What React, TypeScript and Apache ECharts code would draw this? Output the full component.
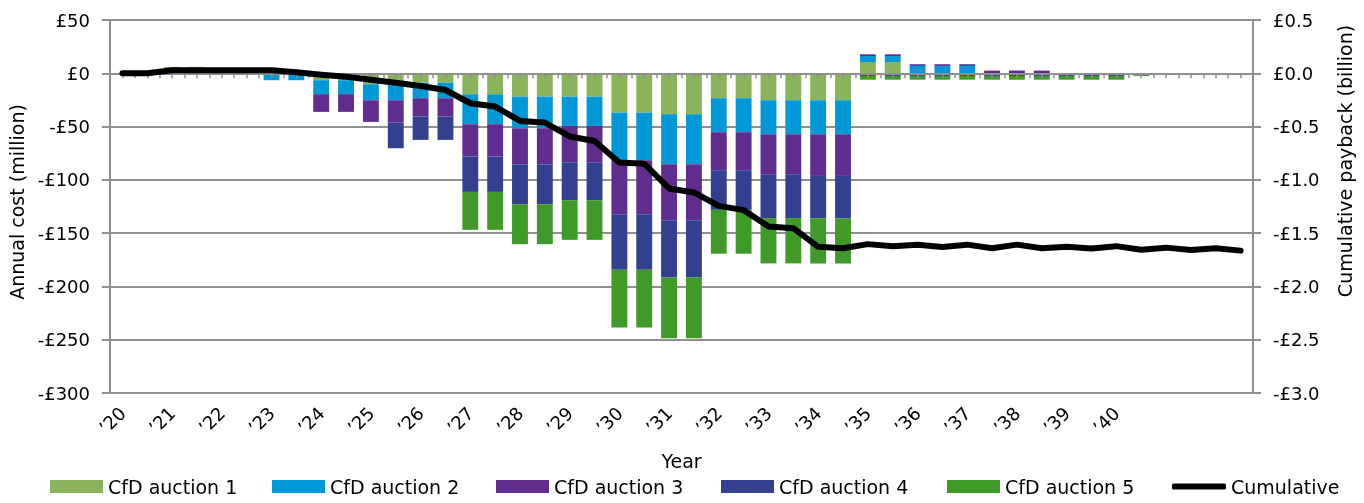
import React, { useEffect, useRef } from 'react';
import * as echarts from 'echarts';

// Tick labels shown on the category axis (one per year, every second half-year period)
const tickLabels = ["’20", "’21", "’22", "’23", "’24", "’25", "’26", "’27", "’28", "’29", "’30", "’31", "’32", "’33", "’34", "’35", "’36", "’37", "’38", "’39", "’40"];

// Years covered by the axis (two periods each)
const years = ["2020", "2021", "2022", "2023", "2024", "2025", "2026", "2027", "2028", "2029", "2030", "2031", "2032", "2033", "2034", "2035", "2036", "2037", "2038", "2039", "2040", "2041", "2042"];

const seriesNames = ["CfD auction 1", "CfD auction 2", "CfD auction 3", "CfD auction 4", "CfD auction 5"];
const lineName = "Cumulative";

// Annual cost (£ million), per half-year period
const auction1 = [0, 0, 6, 6, 0, 0, 0, 0, -6.5, -6.5, -10.3, -8.8, -8.8, -8.8, -19.7, -19.7, -21.9, -21.9, -21.9, -21.9, -36.9, -36.9, -38.4, -38.4, -23.4, -23.4, -25.3, -25.3, -25.3, -25.3, 10.6, 10.6, 0, 0, 0, 0, 0, 0, 0, 0, 0, 0, 0, 0, 0, 0];
const auction2 = [0, 0, 0, 0, 0, 0, -6.5, -6.5, -13.1, -13.1, -15, -16.5, -14.6, -14.6, -28.1, -28.1, -29.7, -29.7, -27.5, -27.5, -44.7, -44.7, -46.9, -46.9, -31.9, -31.9, -31.9, -31.9, -31.9, -31.9, 5.6, 5.6, 6.9, 6.9, 6.9, 0, 0, 0, 0, 0, 0, 0, 0, 0, 0, 0];
const auction3 = [0, 0, 0, 0, 0, 0, 0, 0, -16.6, -16.6, -20.3, -21, -17.2, -17.2, -30.3, -30.3, -33.8, -33.8, -34.1, -34.1, -50.6, -50.6, -52.5, -52.5, -35.6, -35.6, -37.5, -37.5, -39.1, -39.1, 1.6, 1.6, 1.6, 1.6, 1.6, 2.5, 2.5, 2.5, 0, 0, 0, 0, 0, 0, 0, 0];
const auction4 = [0, 0, 0, 0, 0, 0, 0, 0, 0, 0, 0, -24, -21.9, -21.9, -33.2, -33.2, -37.5, -37.5, -35.6, -35.6, -52.2, -52.2, -53.8, -53.8, -37.2, -37.2, -41.2, -41.2, -39.7, -39.7, -2.5, -2.5, -2.5, -2.5, -2.5, -2.5, -2.5, -2.5, -2.5, -2.5, -2.5, 0, 0, 0, 0, 0];
const auction5 = [0, 0, 0, 0, 0, 0, 0, 0, 0, 0, 0, 0, 0, 0, -35.6, -35.6, -37.5, -37.5, -37.2, -37.2, -54.1, -54.1, -57.1, -57.1, -41.2, -41.2, -42.5, -42.5, -42.5, -42.5, -3.5, -3.5, -3.5, -3.5, -3.5, -3.5, -3.5, -3.5, -3.5, -3.5, -3.5, -2.5, 0, 0, 0, 0];

// Cumulative payback (£ billion)
const cumulative = [0, 0, 0.028, 0.028, 0.028, 0.028, 0.028, 0.009, -0.014, -0.033, -0.061, -0.089, -0.119, -0.157, -0.281, -0.312, -0.447, -0.462, -0.593, -0.635, -0.837, -0.848, -1.081, -1.118, -1.244, -1.284, -1.437, -1.453, -1.628, -1.641, -1.603, -1.622, -1.608, -1.631, -1.608, -1.641, -1.608, -1.641, -1.627, -1.645, -1.622, -1.655, -1.636, -1.659, -1.641, -1.664];

const periods = years.flatMap((y) => [y + " H1", y + " H2"]);

export default function App() {
  const ref = useRef<HTMLDivElement>(null);

  useEffect(() => {
    if (!ref.current) return;
    const chart = echarts.init(ref.current, null, { renderer: 'svg' });
    const font = 'DejaVu Sans';
    const gray = '#8f8f8f';
    const colors = ['#89B45B', '#0098D7', '#602C8D', '#32408F', '#409A2A'];
    const barData = [auction1, auction2, auction3, auction4, auction5];
    const legendLefts = [50, 272, 496, 721, 947, 1172];

    const barSeries = seriesNames.map((name, i) => ({
      name,
      type: 'bar',
      stack: 'cost',
      xAxisIndex: 0,
      yAxisIndex: 0,
      barCategoryGap: '36%',
      itemStyle: { color: colors[i] },
      data: barData[i],
      z: 2,
    }));

    const legends = seriesNames.map((name, i) => ({
      data: [{ name, icon: 'rect' }],
      left: legendLefts[i],
      top: 477,
      itemWidth: 53,
      itemHeight: 13,
      itemGap: 0,
      padding: 0,
      textStyle: { fontFamily: font, fontSize: 19, color: '#000' },
    }));
    legends.push({
      data: [{ name: lineName, icon: 'roundRect' }] as any,
      left: legendLefts[5],
      top: 477,
      itemWidth: 54,
      itemHeight: 6,
      itemGap: 0,
      padding: 0,
      textStyle: { fontFamily: font, fontSize: 19, color: '#000' },
    });

    const option = {
      animation: false,
      legend: legends,
      grid: { left: 110, right: 111, top: 20, bottom: 110, containLabel: false },
      xAxis: [
        {
          type: 'category',
          data: periods,
          position: 'bottom',
          boundaryGap: true,
          axisLine: { show: true, onZero: false, lineStyle: { color: gray, width: 2 } },
          axisTick: { show: false },
          axisLabel: {
            interval: 0,
            rotate: 45,
            margin: 17,
            fontFamily: font,
            fontSize: 18,
            color: '#000',
            formatter: (_v: string, idx: number) =>
              idx % 2 === 0 && idx / 2 < tickLabels.length ? tickLabels[idx / 2] : '',
          },
          splitLine: { show: false },
          name: 'Year',
          nameLocation: 'middle',
          nameGap: 58,
          nameTextStyle: { fontFamily: font, fontSize: 19, color: '#000' },
        },
        {
          type: 'value',
          min: 0,
          max: periods.length * 2,
          interval: 1,
          position: 'bottom',
          z: 3,
          axisLine: { show: true, onZero: true, onZeroAxisIndex: 0, lineStyle: { color: gray, width: 2 } },
          axisTick: { show: true, inside: false, length: 5, lineStyle: { color: gray, width: 1.5 } },
          axisLabel: { show: false },
          splitLine: { show: false },
        },
      ],
      yAxis: [
        {
          type: 'value',
          min: -300,
          max: 50,
          interval: 50,
          position: 'left',
          axisLine: { show: true, lineStyle: { color: gray, width: 2 } },
          axisTick: { show: true, length: 8, lineStyle: { color: gray, width: 2 } },
          axisLabel: {
            margin: 20,
            fontFamily: font,
            fontSize: 18,
            color: '#000',
            formatter: (v: number) => (v < 0 ? '-£' : '£') + Math.abs(v),
          },
          splitLine: { show: true, lineStyle: { color: gray, width: 2 } },
        },
        {
          type: 'value',
          min: -3,
          max: 0.5,
          interval: 0.5,
          position: 'right',
          axisLine: { show: true, lineStyle: { color: gray, width: 2 } },
          axisTick: { show: true, length: 8, lineStyle: { color: gray, width: 2 } },
          axisLabel: {
            margin: 20,
            fontFamily: font,
            fontSize: 18,
            color: '#000',
            formatter: (v: number) => (v < -1e-9 ? '-£' : '£') + Math.abs(v).toFixed(1),
          },
          splitLine: { show: false },
        },
      ],
      graphic: [
        {
          type: 'text',
          x: 17,
          y: 202,
          rotation: Math.PI / 2,
          style: {
            text: 'Annual cost (million)',
            fontFamily: font,
            fontSize: 19,
            fill: '#000',
            align: 'center',
            verticalAlign: 'middle',
          },
        },
        {
          type: 'text',
          x: 1345,
          y: 161,
          rotation: Math.PI / 2,
          style: {
            text: 'Cumulative payback (billion)',
            fontFamily: font,
            fontSize: 19,
            fill: '#000',
            align: 'center',
            verticalAlign: 'middle',
          },
        },
      ],
      series: [
        ...barSeries,
        {
          name: lineName,
          type: 'line',
          xAxisIndex: 0,
          yAxisIndex: 1,
          data: cumulative,
          symbol: 'none',
          showSymbol: false,
          z: 5,
          itemStyle: { color: '#000' },
          lineStyle: { color: '#000', width: 6, cap: 'round', join: 'round' },
        },
      ],
    };

    chart.setOption(option as any);
    return () => chart.dispose();
  }, []);

  return (
    <div
      ref={ref}
      style={{ position: 'fixed', left: 0, top: 0, width: 1364, height: 503 }}
    />
  );
}
